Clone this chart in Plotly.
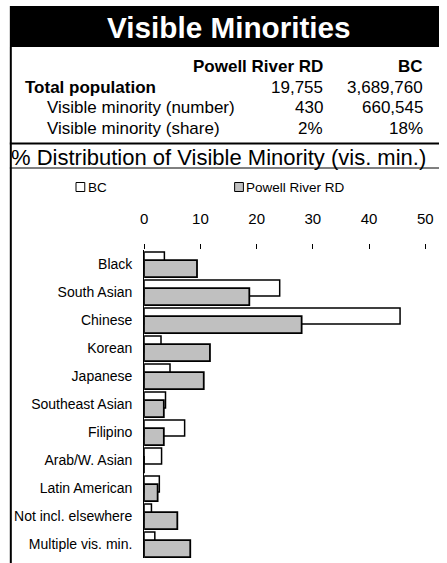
import plotly.graph_objects as go

# ---------------- data ----------------
categories = ["Black", "South Asian", "Chinese", "Korean", "Japanese",
              "Southeast Asian", "Filipino", "Arab/W. Asian", "Latin American",
              "Not incl. elsewhere", "Multiple vis. min."]
bc_share = [3.6, 24.1, 45.5, 3.0, 4.6, 3.8, 7.2, 3.1, 2.7, 1.3, 1.9]
pr_share = [9.4, 18.7, 28.0, 11.7, 10.6, 3.5, 3.5, 0.0, 2.4, 5.9, 8.2]

table_labels = ["Total population", "Visible minority (number)", "Visible minority (share)"]
pr_values = ["19,755", "430", "2%"]
bc_values = ["3,689,760", "660,545", "18%"]
col_headers = ["Powell River RD", "BC"]
series_names = ["BC", "Powell River RD"]
series_colors = ["white", "#c0c0c0"]

title_text = "Visible Minorities"
subtitle_text = "% Distribution of Visible Minority (vis. min.)"
x_ticks = [0, 10, 20, 30, 40, 50]

# ---------------- layout helpers ----------------
W, H = 447, 563
FONT = "Arial, Liberation Sans, sans-serif"


def px(x):
    return x / W


def py(y):
    return 1 - y / H


fig = go.Figure()
fig.add_trace(go.Bar(
    y=categories, x=bc_share, orientation="h", name=series_names[0],
    marker=dict(color=series_colors[0], line=dict(color="black", width=1.5)),
    offset=-0.43, width=0.57, showlegend=False, hoverinfo="skip",
))
fig.add_trace(go.Bar(
    y=categories, x=pr_share, orientation="h", name=series_names[1],
    marker=dict(color=series_colors[1], line=dict(color="black", width=1.8)),
    offset=-0.14, width=0.61, showlegend=False, hoverinfo="skip",
))

shapes = [
    dict(type="rect", xref="paper", yref="paper", x0=px(6), x1=px(W), y0=py(47), y1=py(6),
         fillcolor="black", line=dict(width=0), layer="below"),
    dict(type="line", xref="paper", yref="paper", x0=px(7), x1=px(7), y0=py(47), y1=py(H),
         line=dict(color="black", width=2)),
    dict(type="line", xref="paper", yref="paper", x0=px(6), x1=px(W), y0=py(143.5), y1=py(143.5),
         line=dict(color="black", width=2)),
    dict(type="line", xref="paper", yref="paper", x0=px(6), x1=px(W), y0=py(168), y1=py(168),
         line=dict(color="black", width=1)),
]

annotations = [
    dict(text="<b>%s</b>" % title_text, x=px(231.5), y=py(27), xref="paper", yref="paper",
         xanchor="center", yanchor="middle", showarrow=False,
         font=dict(family=FONT, size=29.7, color="white")),
    dict(text="<b>%s</b>" % col_headers[0], x=px(330), y=py(66), xref="paper", yref="paper",
         xanchor="right", yanchor="middle", showarrow=False,
         font=dict(family=FONT, size=17, color="black")),
    dict(text="<b>%s</b>" % col_headers[1], x=px(433), y=py(66), xref="paper", yref="paper",
         xanchor="right", yanchor="middle", showarrow=False,
         font=dict(family=FONT, size=17, color="black")),
    dict(text=subtitle_text, x=px(220), y=py(157), xref="paper", yref="paper",
         xanchor="center", yanchor="middle", showarrow=False,
         font=dict(family=FONT, size=22, color="black")),
]
row_y = [87, 108, 129]
for i, lab in enumerate(table_labels):
    txt = "<b>%s</b>" % lab if i == 0 else lab
    lx = 20 if i == 0 else 42
    annotations.append(dict(text=txt, x=px(lx), y=py(row_y[i]), xref="paper", yref="paper",
                            xanchor="left", yanchor="middle", showarrow=False,
                            font=dict(family=FONT, size=17, color="black")))
    annotations.append(dict(text=pr_values[i], x=px(330), y=py(row_y[i]), xref="paper", yref="paper",
                            xanchor="right", yanchor="middle", showarrow=False,
                            font=dict(family=FONT, size=17, color="black")))
    annotations.append(dict(text=bc_values[i], x=px(433), y=py(row_y[i]), xref="paper", yref="paper",
                            xanchor="right", yanchor="middle", showarrow=False,
                            font=dict(family=FONT, size=17, color="black")))

# legend (drawn as key squares + labels)
legend_x = [74, 237]
legend_y = 187
for i, name in enumerate(series_names):
    x0 = legend_x[i]
    shapes.append(dict(type="rect", xref="paper", yref="paper",
                       x0=px(x0), x1=px(x0 + 9), y0=py(legend_y + 4.5), y1=py(legend_y - 4.5),
                       fillcolor=series_colors[i], line=dict(color="black", width=1)))
    annotations.append(dict(text=name, x=px(x0 + 10), y=py(legend_y), xref="paper", yref="paper",
                            xanchor="left", yanchor="middle", showarrow=False,
                            font=dict(family=FONT, size=13.5, color="black")))

fig.update_layout(
    width=W, height=H,
    margin=dict(l=0, r=0, t=0, b=0),
    paper_bgcolor="white", plot_bgcolor="white",
    barmode="overlay",
    font=dict(family=FONT, color="black"),
    shapes=shapes, annotations=annotations,
    showlegend=False,
    xaxis=dict(domain=[px(144), px(433)], range=[0, 50], tickvals=x_ticks, side="top",
               ticks="outside", ticklen=5, tickcolor="black", tickwidth=1,
               showgrid=False, zeroline=False, showline=False,
               tickfont=dict(family=FONT, size=15, color="black"),
               ticklabelstandoff=14, fixedrange=True),
    yaxis=dict(domain=[1 - 558 / H, 1 - 250 / H], autorange=False, range=[10.5, -0.5],
               type="category", showgrid=False, zeroline=False,
               showline=True, linecolor="black", linewidth=1, ticks="",
               tickfont=dict(family=FONT, size=14, color="black"),
               ticklabelstandoff=8, fixedrange=True),
)

fig.write_html("out.html",
               config={"displayModeBar": False},
               post_script="document.body.style.margin='0';document.body.style.overflow='hidden';")
